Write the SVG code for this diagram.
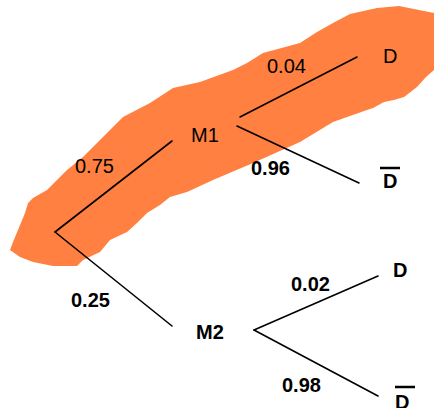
<svg xmlns="http://www.w3.org/2000/svg" width="434" height="408" viewBox="0 0 434 408">
<style>
.t{font-family:"Liberation Sans",Arial,sans-serif;font-size:20px;fill:#000}
.b{font-weight:bold}
.e{stroke:#000;stroke-width:1.6;fill:none;stroke-linecap:round}
.bar{stroke:#000;stroke-width:2.5}
</style>
<rect width="434" height="408" fill="#fff"/>
<path id="highlight" fill="#FF8040" d="M10,250 L13,242 L18,230 L25,213 L28,203 L33,198 L47,190 L67,170 L83,157 L100,140 L123,117 L150,103 L173,88 L200,82 L233,70 L247,63 L263,53 L300,43 L317,32 L333,23 L350,14 L377,8 L399,6 L414,9 L434,13 L434,70 L426,77 L417,87 L404,97 L394,100 L384,102 L373,108 L367,110 L333,122 L300,142 L253,163 L213,180 L187,192 L170,197 L160,205 L147,213 L137,223 L127,232 L110,240 L100,252 L83,260 L77,266 L53,266 L33,262 L20,257 Z"/>
<g id="connectors">
<line class="e" x1="55" y1="232" x2="172" y2="141"/>
<line class="e" x1="55" y1="232" x2="172" y2="326"/>
<line class="e" x1="240" y1="117" x2="357" y2="57"/>
<line class="e" x1="237" y1="126" x2="359" y2="183" stroke-width="2"/>
<line class="e" x1="254" y1="330" x2="378" y2="276" stroke-width="2"/>
<line class="e" x1="254" y1="330" x2="378" y2="396" stroke-width="2"/>
</g>
<g id="edge-labels">
<text class="t" x="75" y="173">0.75</text>
<text class="t b" x="71" y="307">0.25</text>
<text class="t" x="267" y="73">0.04</text>
<text class="t b" x="251" y="175">0.96</text>
<text class="t b" x="291" y="291">0.02</text>
<text class="t b" x="282" y="392">0.98</text>
</g>
<g id="M1"><text class="t" x="191" y="142">M1</text></g>
<g id="M2"><text class="t b" x="196" y="339">M2</text></g>
<g id="D1"><text class="t" x="383" y="63">D</text></g>
<g id="Dbar1"><line class="bar" x1="380" y1="168" x2="400" y2="168"/><text class="t b" x="383" y="188">D</text></g>
<g id="D2"><text class="t b" x="393" y="277">D</text></g>
<g id="Dbar2"><line class="bar" x1="395" y1="387" x2="415" y2="387"/><text class="t b" x="395" y="409">D</text></g>
</svg>
